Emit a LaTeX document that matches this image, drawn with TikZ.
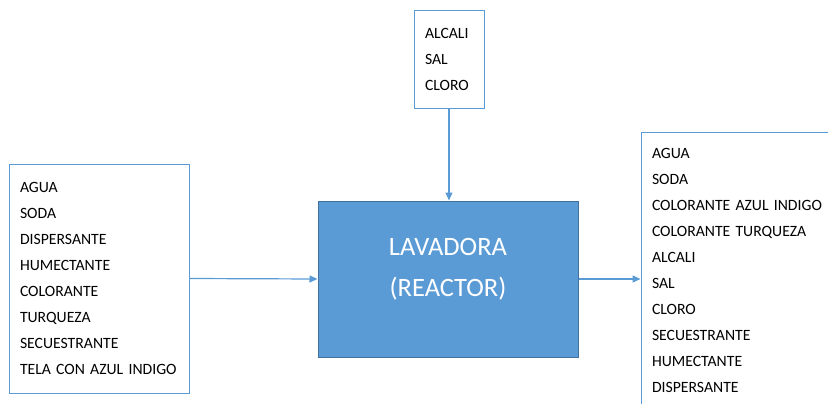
\documentclass[tikz,border=0pt]{standalone}
\usepackage{fontspec}
\setmainfont{Carlito}
\usetikzlibrary{arrows.meta}
\definecolor{lineblue}{HTML}{5B9BD5}
\definecolor{reactorfill}{HTML}{5B9BD5}
\definecolor{reactoredge}{HTML}{41719C}

\begin{document}
\begin{tikzpicture}[x=1pt,y=-1pt,
    listbox/.style={draw=lineblue, line width=0.9pt, fill=white, align=left,
        inner xsep=11pt, inner ysep=0pt, font=\fontsize{15.7}{26}\selectfont},
    flow/.style={draw=lineblue, line width=1.2pt, -{Triangle[length=8pt,width=7pt]}}]

    %page frame
        \useasboundingbox (0,0) rectangle (828,404);
        \clip (0,0) rectangle (828,404);

    %the washer in the middle
        \node[draw=reactoredge, line width=1pt, fill=reactorfill,
            minimum width=260pt, minimum height=156pt] (reactor) at (448,279) {};
        \node[text=white, align=center, font=\fontsize{26.5}{41}\selectfont]
            (reactorlabel) at ([yshift=10pt]reactor.center) {LAVADORA\\(REACTOR)};

    %input and output lists
        \node[listbox, text width=48pt, minimum height=98pt] (topbox) at (449,59)
            {ALCALI\\SAL\\CLORO};
        \node[listbox, text width=158pt, minimum height=229pt] (leftbox) at (99,278.5)
            {AGUA\\SODA\\DISPERSANTE\\HUMECTANTE\\COLORANTE\\TURQUEZA\\SECUESTRANTE\\TELA CON AZUL INDIGO};
        \node[listbox, text width=173pt, minimum height=276pt] (rightbox) at (738.5,270)
            {AGUA\\SODA\\COLORANTE AZUL INDIGO\\COLORANTE TURQUEZA\\ALCALI\\SAL\\CLORO\\SECUESTRANTE\\HUMECTANTE\\DISPERSANTE};

    %arrows into and out of the washer
        \draw[flow] (topbox.south) -- (topbox.south |- reactor.north);
        \draw[flow] (leftbox.east) -- (reactor.west);
        \draw[flow] (reactor.east) -- (reactor.east -| rightbox.west);

\end{tikzpicture}
\end{document}
